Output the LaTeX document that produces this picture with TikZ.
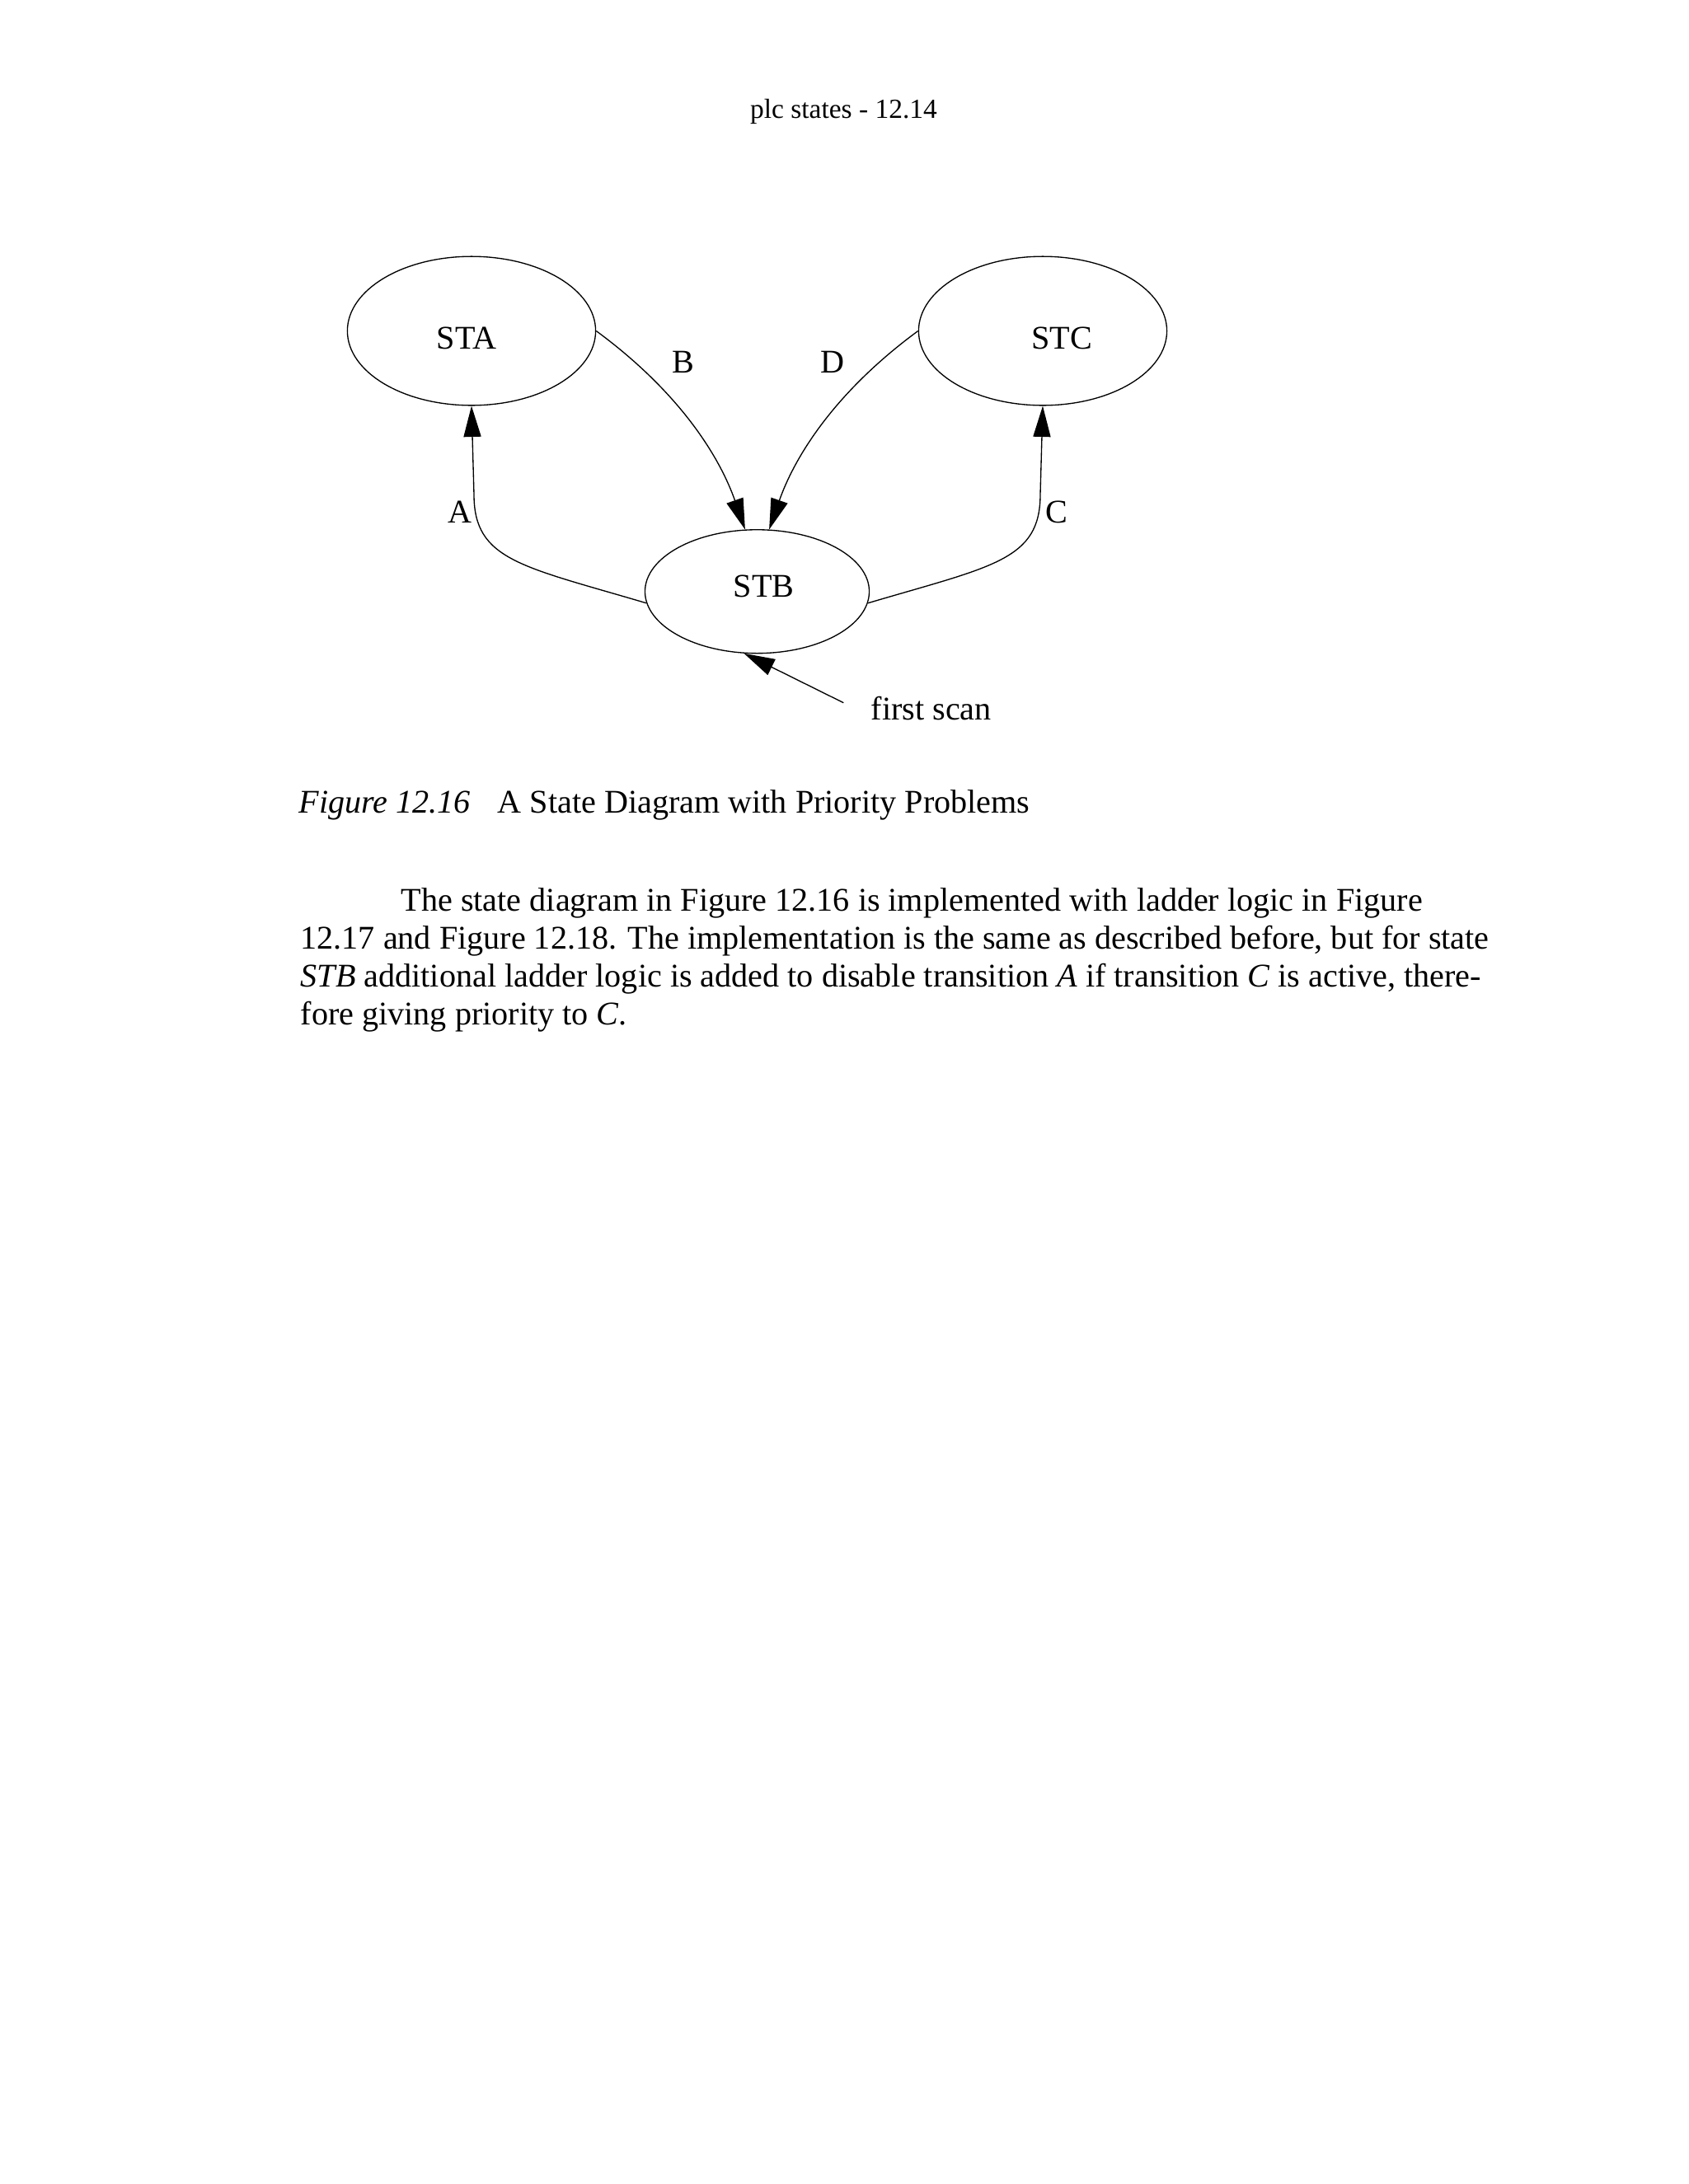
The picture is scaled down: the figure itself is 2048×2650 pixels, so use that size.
\documentclass[tikz,border=0pt]{standalone}
\usepackage{fontspec}
\setmainfont{Liberation Serif}
\usetikzlibrary{arrows.meta}
\usetikzlibrary{shapes.geometric}

\tikzset{
	state/.style={draw, thin, ellipse, inner sep=0pt, minimum width=90bp, minimum height=54bp},
	smallstate/.style={state, minimum width=81.3bp, minimum height=44.8bp},
	lbl/.style={inner sep=0pt, anchor=base, font=\fontsize{12bp}{13.8bp}\selectfont},
	textline/.style={lbl, anchor=base west},
	>={Triangle[length=11.2bp, width=6.3bp]}
}

\begin{document}
\begin{tikzpicture}[x=0.29883bp, y=-0.29883bp]
	\useasboundingbox (0,0) rectangle (2048,2650);

	% Page header
	\node[lbl, font=\fontsize{10bp}{12bp}\selectfont] (header) at (1023.5,143.3) {plc states - 12.14};

	% States
	\begin{scope}
		\node[state] (sta) at (572,401.5) {};
		\node[state] (stc) at (1265,401.5) {};
		\node[smallstate] (stb) at (918.5,717.7) {};

		\node[lbl] (statext) at (566,423.3) {STA};
		\node[lbl] (stctext) at (1288,423.3) {STC};
		\node[lbl] (stbtext) at (926.7,724.3) {STB};
	\end{scope}

	% Transitions
	\begin{scope}
		\coordinate (abend) at (575,600);
		\coordinate (cbend) at (1262,600);
		\draw[thin, ->] (stb.186) .. controls (633,687) and (575,680) .. (abend) -- (sta.south);
		\draw[thin, ->] (stb.-6) .. controls (1204,687) and (1262,680) .. (cbend) -- (stc.south);
		\draw[thin, ->] (sta.east) .. controls (830,480) and (875,560) .. (stb.101);
		\draw[thin, ->] (stc.west) .. controls (1007,480) and (962,560) .. (stb.79);

		\node[lbl] (labela) at (557.5,634) {A};
		\node[lbl] (labelb) at (829,452.7) {B};
		\node[lbl] (labeld) at (1009.7,452.7) {D};
		\node[lbl] (labelc) at (1281.7,634) {C};

		% Initial state
		\coordinate (scanstart) at (1023.3,852.7);
		\draw[thin, ->] (scanstart) -- (stb.258);
		\node[textline] (firstscan) at (1056,873.3) {first scan};
	\end{scope}

	% Caption and body text
	\node[textline] (capnum) at (362,986.7) {\textit{Figure 12.16}};
	\node[textline] (captitle) at (603,986.7) {A State Diagram with Priority Problems};

	\node[textline] (lineone) at (486,1105) {The state diagram in Figure 12.16 is implemented with ladder logic in Figure};
	\node[textline] (linetwo) at (364,1151) {12.17 and Figure 12.18. The implementation is the same as described before, but for state};
	\node[textline] (linethree) at (364,1197.3) {\textit{STB} additional ladder logic is added to disable transition \textit{A} if transition \textit{C} is active, there-};
	\node[textline] (linefour) at (364,1243.7) {fore giving priority to \textit{C}.};
\end{tikzpicture}
\end{document}
